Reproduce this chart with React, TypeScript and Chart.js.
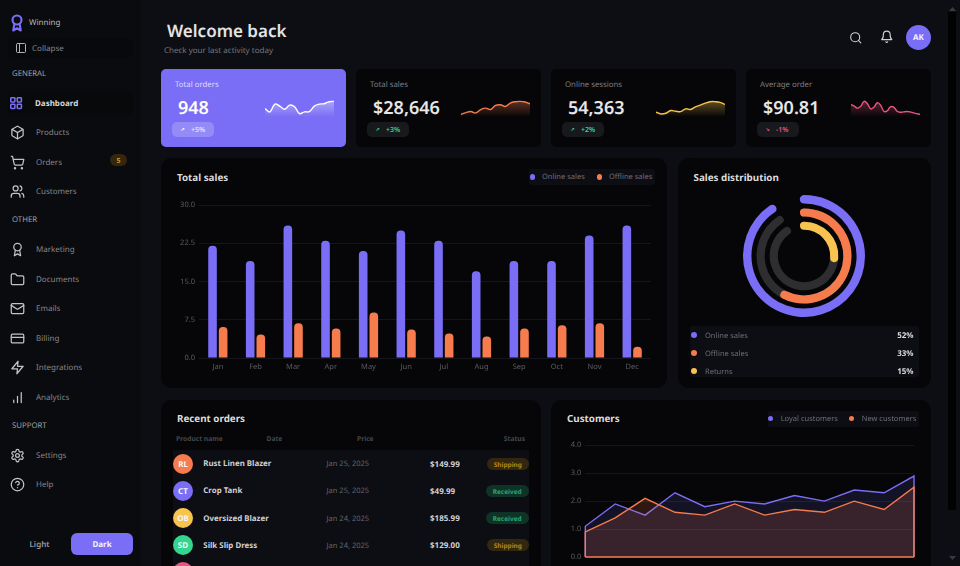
import React, { useEffect, useRef } from 'react';
import { Chart, registerables } from 'chart.js';

Chart.register(...registerables);
Chart.defaults.font.family = "'Noto Sans', sans-serif";

// axis labels unhinted, same as the page text
Chart.register({
  id: 'preciseText',
  beforeDraw: (chart: any) => { chart.ctx.textRendering = 'geometricPrecision'; },
});

const PURPLE = '#7b6ef6';
const ORANGE = '#f67c4e';
const YELLOW = '#f8c44f';
const GREEN = '#34d58f';
const PINK = '#e8557f';
const TRACK = '#2e2e30';

const months = ['Jan', 'Feb', 'Mar', 'Apr', 'May', 'Jun', 'Jul', 'Aug', 'Sep', 'Oct', 'Nov', 'Dec'];
const onlineSales = [22, 19, 26, 23, 21, 25, 23, 17, 19, 19, 24, 26];
const offlineSales = [6.1, 4.6, 6.8, 5.8, 8.9, 5.6, 4.8, 4.2, 5.8, 6.4, 6.8, 2.2];

const loyalCustomers = [1.1, 1.9, 1.5, 2.3, 1.8, 2.0, 1.9, 2.2, 2.0, 2.4, 2.3, 2.9];
const newCustomers = [0.9, 1.4, 2.1, 1.6, 1.5, 1.9, 1.5, 1.7, 1.6, 2.0, 1.7, 2.5];

const sparkOrders = [25, 15, 38, 32, 23, 35, 30, 10, 15, 16, 32, 38, 39, 45, 46];
const sparkSales = [8, 13, 16, 12, 22, 26, 22, 34, 36, 31, 41, 45, 46, 44, 39];
const sparkSessions = [14, 9, 11, 19, 17, 16, 24, 22, 30, 35, 41, 45, 45, 43, 37];
const sparkAverage = [37, 32, 26, 32, 46, 39, 24, 29, 42, 35, 17, 18, 30, 29, 17, 14, 15, 16, 15, 12, 10, 8];

const distLabels = ['Online sales', 'Offline sales', 'Returns'];
const distValues = [52, 33, 15];
const distColors = [PURPLE, ORANGE, YELLOW];

const navGeneral = [
  ['Products', 132, 'box'],
  ['Orders', 162, 'cart'],
  ['Customers', 191, 'users'],
];
const navOther = [
  ['Marketing', 249, 'award'],
  ['Documents', 279, 'folder'],
  ['Emails', 308, 'mail'],
  ['Billing', 338, 'card'],
  ['Integrations', 367, 'zap'],
  ['Analytics', 397, 'bars'],
];
const navSupport = [
  ['Settings', 455, 'gear'],
  ['Help', 484, 'help'],
];

const orders = [
  ['RL', 'Rust Linen Blazer', 'Jan 25, 2025', '$149.99', 'Shipping', ORANGE],
  ['CT', 'Crop Tank', 'Jan 25, 2025', '$49.99', 'Received', PURPLE],
  ['OB', 'Oversized Blazer', 'Jan 24, 2025', '$185.99', 'Received', YELLOW],
  ['SD', 'Silk Slip Dress', 'Jan 24, 2025', '$129.00', 'Shipping', GREEN],
];

const icons: Record<string, React.ReactNode> = {
  award: <><circle cx="12" cy="8" r="6" /><path d="M15.477 12.89 17 22l-5-3-5 3 1.523-9.11" /></>,
  panel: <><rect x="3" y="3" width="18" height="18" rx="2" /><path d="M9 3v18" /></>,
  grid: <><rect x="3" y="3" width="7" height="7" rx="1" /><rect x="14" y="3" width="7" height="7" rx="1" /><rect x="14" y="14" width="7" height="7" rx="1" /><rect x="3" y="14" width="7" height="7" rx="1" /></>,
  box: <><path d="M21 8a2 2 0 0 0-1-1.73l-7-4a2 2 0 0 0-2 0l-7 4A2 2 0 0 0 3 8v8a2 2 0 0 0 1 1.73l7 4a2 2 0 0 0 2 0l7-4A2 2 0 0 0 21 16Z" /><path d="m3.3 7 8.7 5 8.7-5" /><path d="M12 22V12" /></>,
  cart: <><circle cx="8" cy="21" r="1" /><circle cx="19" cy="21" r="1" /><path d="M2.05 2.05h2l2.66 12.42a2 2 0 0 0 2 1.58h9.78a2 2 0 0 0 1.95-1.57l1.65-7.43H5.12" /></>,
  users: <><path d="M16 21v-2a4 4 0 0 0-4-4H6a4 4 0 0 0-4 4v2" /><circle cx="9" cy="7" r="4" /><path d="M22 21v-2a4 4 0 0 0-3-3.87" /><path d="M16 3.13a4 4 0 0 1 0 7.75" /></>,
  folder: <path d="M20 20a2 2 0 0 0 2-2V8a2 2 0 0 0-2-2h-7.9a2 2 0 0 1-1.69-.9L9.6 3.9A2 2 0 0 0 7.93 3H4a2 2 0 0 0-2 2v13a2 2 0 0 0 2 2Z" />,
  mail: <><rect x="2" y="4" width="20" height="16" rx="2" /><path d="m22 7-8.97 5.7a1.94 1.94 0 0 1-2.06 0L2 7" /></>,
  card: <><rect x="2" y="5" width="20" height="14" rx="2" /><path d="M2 10h20" /></>,
  zap: <path d="M13 2 3 14h9l-1 8 10-12h-9l1-8z" />,
  bars: <path d="M12 20V10M18 20V4M6 20v-4" />,
  gear: <><path d="M12.22 2h-.44a2 2 0 0 0-2 2v.18a2 2 0 0 1-1 1.73l-.43.25a2 2 0 0 1-2 0l-.15-.08a2 2 0 0 0-2.73.73l-.22.38a2 2 0 0 0 .73 2.73l.15.1a2 2 0 0 1 1 1.72v.51a2 2 0 0 1-1 1.74l-.15.09a2 2 0 0 0-.73 2.73l.22.38a2 2 0 0 0 2.73.73l.15-.08a2 2 0 0 1 2 0l.43.25a2 2 0 0 1 1 1.73V20a2 2 0 0 0 2 2h.44a2 2 0 0 0 2-2v-.18a2 2 0 0 1 1-1.73l.43-.25a2 2 0 0 1 2 0l.15.08a2 2 0 0 0 2.73-.73l.22-.39a2 2 0 0 0-.73-2.73l-.15-.08a2 2 0 0 1-1-1.74v-.5a2 2 0 0 1 1-1.74l.15-.09a2 2 0 0 0 .73-2.73l-.22-.38a2 2 0 0 0-2.73-.73l-.15.08a2 2 0 0 1-2 0l-.43-.25a2 2 0 0 1-1-1.73V4a2 2 0 0 0-2-2z" /><circle cx="12" cy="12" r="3" /></>,
  help: <><circle cx="12" cy="12" r="10" /><path d="M9.09 9a3 3 0 0 1 5.83 1c0 2-3 3-3 3" /><path d="M12 17h.01" /></>,
  search: <><circle cx="11" cy="11" r="8" /><path d="m21 21-4.3-4.3" /></>,
  bell: <><path d="M6 8a6 6 0 0 1 12 0c0 7 3 9 3 9H3s3-2 3-9" /><path d="M10.3 21a1.94 1.94 0 0 0 3.4 0" /></>,
};

const abs = (x: number, y: number, w: number, h: number): React.CSSProperties => ({
  position: 'absolute', left: x, top: y, width: w, height: h,
});

function Box({ x, y, w, h, bg, r = 0 }: any) {
  return <div style={{ ...abs(x, y, w, h), background: bg, borderRadius: r }} />;
}

// text placed by its left edge (or right edge) and vertical centre
function T({ x, y, size = 8, color = '#8a8b90', weight = 400, right, center, children }: any) {
  const tx = right ? 'translate(-100%,-50%)' : center ? 'translate(-50%,-50%)' : 'translateY(-50%)';
  return (
    <div style={{
      position: 'absolute', left: x, top: y, transform: tx, fontSize: size, color, fontWeight: weight,
      lineHeight: 1, whiteSpace: 'nowrap',
    }}>{children}</div>
  );
}

function Icon({ name, x, y, size = 15, color = '#c2c3c7', sw = 2 }: any) {
  return (
    <svg style={{ position: 'absolute', left: x, top: y }} width={size} height={size} viewBox="0 0 24 24"
      fill="none" stroke={color} strokeWidth={sw} strokeLinecap="round" strokeLinejoin="round">
      {icons[name]}
    </svg>
  );
}

function Caret({ x, y, up }: any) {
  return (
    <svg style={{ position: 'absolute', left: x, top: y }} width={7} height={4} viewBox="0 0 7 4">
      <path d={up ? 'M0 4 3.5 0 7 4Z' : 'M0 0 3.5 4 7 0Z'} fill="#3a3b42" />
    </svg>
  );
}

function ChartCanvas({ x, y, w, h, config }: any) {
  const ref = useRef<HTMLCanvasElement>(null);
  useEffect(() => {
    if (!ref.current) return;
    const chart = new Chart(ref.current, config);
    return () => chart.destroy();
  }, [config]);
  return <canvas ref={ref} width={w} height={h} style={{ ...abs(x, y, w, h) }} />;
}

const noPlugins = { legend: { display: false }, tooltip: { enabled: false } };

function sparkConfig(values: number[], color: string) {
  return {
    type: 'line',
    data: {
      labels: values.map((_, i) => i),
      datasets: [{
        data: values,
        borderColor: color,
        borderWidth: 1.4,
        tension: 0.4,
        pointRadius: 0,
        fill: true,
        clip: false,
        backgroundColor: (c: any) => {
          const { ctx, chartArea } = c.chart;
          if (!chartArea) return 'transparent';
          const g = ctx.createLinearGradient(0, chartArea.top, 0, chartArea.bottom);
          g.addColorStop(0, color + '66');
          g.addColorStop(1, color + '00');
          return g;
        },
      }],
    },
    options: {
      animation: false,
      responsive: false,
      plugins: noPlugins,
      layout: { padding: 0 },
      scales: {
        x: { display: false },
        y: { display: false, min: 0, max: 50 },
      },
    },
  };
}

const tickFont = { size: 7.5 };

const barConfig = {
  type: 'bar',
  data: {
    labels: months,
    datasets: [
      { label: 'Online sales', data: onlineSales, backgroundColor: PURPLE },
      { label: 'Offline sales', data: offlineSales, backgroundColor: ORANGE },
    ],
  },
  options: {
    animation: false,
    responsive: false,
    plugins: noPlugins,
    layout: { padding: { top: 15, right: 16 } },
    datasets: {
      bar: {
        categoryPercentage: 0.564,
        barPercentage: 0.81,
        borderRadius: { topLeft: 4, topRight: 4 },
        borderSkipped: 'bottom',
      },
    },
    scales: {
      x: {
        grid: { display: false, drawTicks: false },
        border: { display: false },
        ticks: { color: '#5c5d63', font: tickFont, padding: 4, maxRotation: 0 },
        afterFit: (a: any) => { a.height = 22; },
      },
      y: {
        min: 0,
        max: 30,
        grid: { color: '#15161b', drawTicks: false },
        border: { display: false },
        ticks: {
          stepSize: 7.5,
          color: '#5c5d63',
          font: tickFont,
          padding: 4,
          callback: (v: any) => Number(v).toFixed(1),
        },
        afterFit: (a: any) => { a.width = 38; },
      },
    },
  },
};

// runs the series down to the baseline at both ends so its border goes round the area
const outline = (vals: number[]) => [
  { x: 0, y: 0 },
  ...vals.map((y, x) => ({ x, y })),
  { x: vals.length - 1, y: 0 },
];
const baseline = [{ x: 0, y: 0 }, { x: newCustomers.length - 1, y: 0 }];

const lineConfig = {
  type: 'line',
  data: {
    datasets: [
      {
        label: 'New customers', data: outline(newCustomers), borderColor: ORANGE,
        backgroundColor: 'rgba(246,124,78,0.16)', fill: 'origin', order: 0,
      },
      {
        label: 'Loyal customers', data: outline(loyalCustomers), borderColor: PURPLE,
        backgroundColor: 'rgba(123,110,246,0.12)', fill: 'origin', order: 1,
      },
      { label: 'Baseline', data: baseline, borderColor: ORANGE, fill: false, order: 0 },
    ].map((d) => ({ ...d, borderWidth: 1.4, pointRadius: 0, tension: 0, clip: false })),
  },
  options: {
    animation: false,
    responsive: false,
    plugins: noPlugins,
    layout: { padding: { top: 9.3, right: 17, bottom: 9 } },
    scales: {
      x: { type: 'linear', display: false, min: 0, max: 11 },
      y: {
        min: 0,
        max: 4,
        grid: { color: '#15161b', drawTicks: false },
        border: { display: false },
        ticks: { stepSize: 1, color: '#5c5d63', font: tickFont, padding: 4, callback: (v: any) => Number(v).toFixed(1) },
        afterFit: (a: any) => { a.width = 34.3; },
      },
    },
  },
};

// rings run from the top of the circle through this many degrees, longest value = full sweep
const SWEEP = 326;
const ringWeights = [8.3, 8, 8];
const ringMid = [56.3, 43, 30];
const GAP = 5;
const capDeg = (i: number) => (Math.atan(ringWeights[i] / 2 / ringMid[i]) * 180) / Math.PI;

function ringConfig(values: number[], colors: string[]) {
  const datasets: any[] = [];
  values.forEach((v, i) => {
    datasets.push({
      data: [v],
      backgroundColor: [colors[i]],
      weight: ringWeights[i],
      rotation: -capDeg(i),
      circumference: (v / Math.max(...values)) * SWEEP + 2 * capDeg(i),
      borderRadius: 5,
      borderWidth: 0,
    });
    if (i < values.length - 1) {
      datasets.push({ data: [1], backgroundColor: ['transparent'], weight: GAP, borderWidth: 0 });
    }
  });
  return {
    type: 'doughnut',
    data: { labels: distLabels, datasets },
    options: { animation: false, responsive: false, cutout: 26.2, plugins: noPlugins },
  };
}

const trackConfig = ringConfig([52, 52, 52], ['transparent', TRACK, TRACK]);
const valueConfig = ringConfig(distValues, distColors);

const statCards = [
  { x: 161, label: 'Total orders', value: '948', delta: '+5%', arrow: '↗', spark: sparkOrders, color: '#ffffff', sx: 265, accent: true },
  { x: 356, label: 'Total sales', value: '$28,646', delta: '+3%', arrow: '↗', spark: sparkSales, color: ORANGE, sx: 461, tone: GREEN },
  { x: 551, label: 'Online sessions', value: '54,363', delta: '+2%', arrow: '↗', spark: sparkSessions, color: YELLOW, sx: 656, tone: GREEN },
  { x: 746, label: 'Average order', value: '$90.81', delta: '-1%', arrow: '↘', spark: sparkAverage, color: PINK, sx: 851, tone: PINK },
].map((c) => ({ ...c, config: sparkConfig(c.spark, c.color) }));

const CARD = '#060608';
const PANEL = '#0d0e13';

function Legend2({ x, w, y, items }: any) {
  return (
    <>
      <Box x={x} y={y} w={w} h={16} bg={PANEL} r={2} />
      {items.map((it: any) => (
        <React.Fragment key={it[0]}>
          <Box x={it[1]} y={y + 5} w={5.5} h={5.5} bg={it[3]} r={3} />
          <T x={it[2]} y={y + 9} size={7.5} color="#6d6e74">{it[0]}</T>
        </React.Fragment>
      ))}
    </>
  );
}

function NavItem({ item }: any) {
  const [label, y, icon] = item;
  return (
    <>
      <Icon name={icon} x={10} y={y - 7.5} />
      <T x={36} y={y + 1.2} color="#85868b">{label}</T>
    </>
  );
}

export default function App() {
  return (
    <div style={{
      position: 'fixed', left: 0, top: 0, width: 960, height: 566, overflow: 'hidden', background: PANEL,
      fontFamily: "'Noto Sans', sans-serif", textRendering: 'geometricPrecision',
    }}>
      {/* sidebar */}
      <Box x={0} y={0} w={141} h={566} bg="#0a0b0e" />
      <Icon name="award" x={8} y={13.5} size={18} color={PURPLE} sw={2.8} />
      <T x={29} y={23.2} size={8} color="#b9babd">Winning</T>
      <Box x={8} y={38} w={125} h={20} bg="#08090b" r={6} />
      <Icon name="panel" x={14.5} y={42} size={12} color="#b0b1b5" />
      <T x={32} y={49.2} size={8} color="#85868b">Collapse</T>
      <T x={12} y={75.2} size={7.8} color="#a0a1a5">GENERAL</T>
      <Box x={8} y={91} w={125} h={24} bg="#08090b" r={6} />
      <Icon name="grid" x={9.2} y={95.5} size={14.2} color={PURPLE} sw={2.6} />
      <T x={35} y={104.2} weight={700} color="#d6d7da">Dashboard</T>
      {navGeneral.map((n) => <NavItem key={n[0]} item={n} />)}
      <Box x={110} y={154} w={17} h={12} bg="#33270f" r={6} />
      <T x={118.5} y={160.5} center size={7} weight={700} color="#c9962b">5</T>
      <T x={12} y={221.2} size={7.8} color="#a0a1a5">OTHER</T>
      {navOther.map((n) => <NavItem key={n[0]} item={n} />)}
      <T x={12} y={427.2} size={7.8} color="#a0a1a5">SUPPORT</T>
      {navSupport.map((n) => <NavItem key={n[0]} item={n} />)}
      <T x={39.5} y={545.2} center weight={600} color="#9a9b9f">Light</T>
      <Box x={71} y={533} w={62} h={22} bg={PURPLE} r={6} />
      <T x={102} y={545.2} center weight={700} color="#f2f2f5">Dark</T>

      {/* header */}
      <T x={167} y={30} size={17} weight={600} color="#e4e4e6">Welcome back</T>
      <T x={164} y={50.5} color="#74757a">Check your last activity today</T>
      <Icon name="search" x={848.5} y={30.5} size={13.5} color="#d0d1d4" />
      <Icon name="bell" x={880} y={30} size={13.5} color="#d0d1d4" />
      <Box x={906} y={24.5} w={25} h={25} bg={PURPLE} r={13} />
      <T x={918.5} y={37.6} center size={8} weight={700} color="#f2f2f5">AK</T>

      {/* stat cards */}
      {statCards.map((c) => (
        <React.Fragment key={c.label}>
          <Box x={c.x - 0.3} y={68.5} w={185.2} h={78.5} bg={c.accent ? PURPLE : CARD} r={5} />
          <T x={c.x + 14} y={86.4} size={7.8} color={c.accent ? '#ddd9ff' : '#7c7d82'}>{c.label}</T>
          <T x={c.x + 17} y={107.6} size={18} weight={600} color={c.accent ? '#ffffff' : '#e6e6e8'}>{c.value}</T>
          <Box x={c.x + 11} y={122} w={41.5} h={15} bg={c.accent ? 'rgba(255,255,255,0.2)' : '#18191c'} r={5} />
          <T x={c.x + 19.5} y={129.8} size={5} weight={700} color={c.accent ? '#ffffff' : c.tone}>{c.arrow}</T>
          <T x={c.x + 30} y={130.4} size={7} weight={600} color={c.accent ? '#e4e1ff' : c.tone}>{c.delta}</T>
          <ChartCanvas x={c.sx} y={100} w={69} h={17} config={c.config} />
        </React.Fragment>
      ))}

      {/* total sales */}
      <Box x={161} y={158} w={506} h={230} bg={CARD} r={11} />
      <T x={177} y={177.5} size={9.8} weight={700} color="#dcdcde">Total sales</T>
      <Legend2 x={529} w={126} y={169} items={[
        ['Online sales', 529.5, 542, PURPLE],
        ['Offline sales', 596.5, 609, ORANGE],
      ]} />
      <ChartCanvas x={161} y={190} w={506} h={190} config={barConfig} />

      {/* sales distribution */}
      <Box x={678} y={158} w={253} h={230} bg={CARD} r={11} />
      <T x={693.5} y={177.5} size={9.8} weight={700} color="#dcdcde">Sales distribution</T>
      <ChartCanvas x={743} y={195} w={122} h={122} config={trackConfig} />
      <ChartCanvas x={743} y={195} w={122} h={122} config={valueConfig} />
      <Box x={690} y={326} w={229} h={51} bg={PANEL} r={2} />
      {distLabels.map((d, i) => (
        <React.Fragment key={d}>
          <Box x={691} y={332.3 + i * 18} w={5.5} h={5.5} bg={distColors[i]} r={3} />
          <T x={705} y={336.8 + i * 18} size={7.5} color="#6d6e74">{d}</T>
          <T x={913.5} y={336 + i * 18} right size={8} weight={700} color="#dcdcde">{distValues[i]}%</T>
        </React.Fragment>
      ))}

      {/* recent orders */}
      <Box x={161} y={400} w={380} h={180} bg={CARD} r={11} />
      <T x={177} y={418.6} size={9.8} weight={700} color="#dcdcde">Recent orders</T>
      <T x={176} y={439.2} size={6.7} weight={700} color="#45464b">Product name</T>
      <T x={266.5} y={439.2} size={6.7} weight={700} color="#45464b">Date</T>
      <T x={357} y={439.2} size={6.7} weight={700} color="#45464b">Price</T>
      <T x={525} y={439.2} right size={6.7} weight={700} color="#45464b">Status</T>
      <Box x={172.7} y={450} w={356} h={120} bg={PANEL} />
      {orders.map((o, i) => {
        const y = 464 + i * 27.1;
        const ship = o[4] === 'Shipping';
        return (
          <React.Fragment key={o[1]}>
            <Box x={173} y={y - 10} w={20} h={20} bg={o[5]} r={10} />
            <T x={183} y={y + 0.8} center size={8} weight={700} color="#f4f4f6">{o[0]}</T>
            <T x={203.3} y={y + 1.3} size={7.9} weight={700} color="#d0d1d4">{o[1]}</T>
            <T x={326.5} y={y + 1.3} size={7.5} color="#65666c">{o[2]}</T>
            <T x={430} y={y + 1.1} size={8} weight={700} color="#d0d1d4">{o[3]}</T>
            <Box x={ship ? 487 : 485.7} y={y - 6} w={ship ? 41.7 : 43} h={12} bg={ship ? '#33270f' : '#0f3327'} r={6} />
            <T x={ship ? 507.8 : 507.2} y={y + 1} center size={6.5} weight={700} color={ship ? '#b8851a' : '#25a572'}>{o[4]}</T>
          </React.Fragment>
        );
      })}
      <Box x={173} y={562} w={20} h={20} bg={PINK} r={10} />

      {/* customers */}
      <Box x={551} y={400} w={380} h={180} bg={CARD} r={11} />
      <T x={567} y={418.6} size={9.8} weight={700} color="#dcdcde">Customers</T>
      <Legend2 x={767.7} w={151} y={410.5} items={[
        ['Loyal customers', 767.5, 780.7, PURPLE],
        ['New customers', 848.5, 861.7, ORANGE],
      ]} />
      <ChartCanvas x={551} y={436} w={380} h={130} config={lineConfig} />

      {/* page scrollbar */}
      <Box x={948} y={12} w={8} h={498} bg="#020203" />
      <Caret x={948.5} y={7} up />
      <Caret x={948.5} y={555.5} />
    </div>
  );
}
